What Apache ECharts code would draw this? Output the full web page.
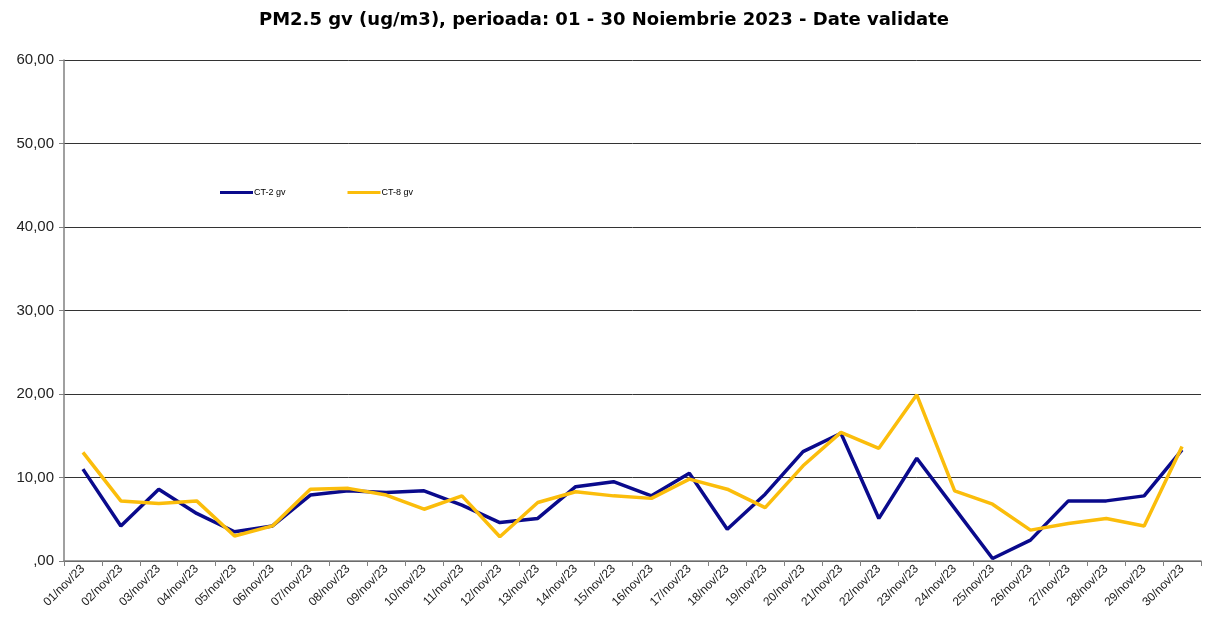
<!DOCTYPE html>
<html>
<head>
<meta charset="utf-8">
<script src="https://cdn.jsdelivr.net/npm/echarts@6/dist/echarts.min.js"></script>
<style>
  html, body { margin: 0; padding: 0; background: #fff; }
  #chart { width: 1208px; height: 622px; }
</style>
</head>
<body>
<div id="chart"></div>
<script>
// zilele din noiembrie
var days = [];
for (var d = 1; d <= 30; d++) {
  days.push((d < 10 ? '0' + d : '' + d) + '/nov/23');
}

var ct2 = [11.0, 4.2, 8.6, 5.7, 3.5, 4.2, 7.9, 8.4, 8.2, 8.4,
           6.7, 4.6, 5.1, 8.9, 9.5, 7.8, 10.5, 3.8, 8.0, 13.1,
           15.3, 5.1, 12.3, 6.3, 0.3, 2.5, 7.2, 7.2, 7.8, 13.3];
var ct8 = [13.0, 7.2, 6.9, 7.2, 3.0, 4.2, 8.6, 8.7, 7.9, 6.2,
           7.8, 2.9, 7.0, 8.3, 7.8, 7.5, 9.8, 8.6, 6.4, 11.4,
           15.4, 13.5, 19.9, 8.4, 6.8, 3.7, 4.5, 5.1, 4.2, 13.7];

var blue = '#0a0a8c';
var yellow = '#fbbd0b';

var chart = echarts.init(document.getElementById('chart'));
chart.setOption({
  animation: false,
  title: {
    text: 'PM2.5 gv (ug/m3), perioada: 01 - 30 Noiembrie 2023 - Date validate',
    left: 'center',
    top: 6,
    textStyle: { fontFamily: 'DejaVu Sans', fontSize: 18, fontWeight: 'bold', color: '#000' }
  },
  legend: {
    left: 215,
    top: 183,
    itemGap: 62,
    itemWidth: 33,
    itemHeight: 3,
    icon: 'rect',
    textStyle: { fontFamily: 'Liberation Sans', fontSize: 9, color: '#000', padding: [0, 0, 0, -4] },
    data: ['CT-2 gv', 'CT-8 gv']
  },
  grid: { left: 64, right: 7, top: 60, bottom: 61 },
  xAxis: {
    type: 'category',
    data: days,
    boundaryGap: true,
    axisLine: { lineStyle: { color: '#808080', width: 1.5 } },
    axisTick: { show: true, alignWithLabel: false, length: 5, lineStyle: { color: '#808080' } },
    axisLabel: {
      interval: 0, rotate: 45, fontFamily: 'Liberation Sans', fontSize: 12, color: '#222', margin: 6
    }
  },
  yAxis: {
    type: 'value',
    min: 0, max: 60, interval: 10,
    axisLine: { show: true, lineStyle: { color: '#808080', width: 1.5 } },
    axisTick: { show: true, length: 5, lineStyle: { color: '#808080' } },
    splitLine: { lineStyle: { color: '#333', width: 1 } },
    axisLabel: {
      fontFamily: 'Liberation Sans', fontSize: 15, color: '#222', margin: 10,
      formatter: function (v) { return v === 0 ? ',00' : v.toFixed(2).replace('.', ','); }
    }
  },
  series: [
    {
      name: 'CT-2 gv', type: 'line', data: ct2, symbol: 'none',
      itemStyle: { color: blue }, lineStyle: { color: blue, width: 3.5 }
    },
    {
      name: 'CT-8 gv', type: 'line', data: ct8, symbol: 'none',
      itemStyle: { color: yellow }, lineStyle: { color: yellow, width: 3.5 }
    }
  ]
});
</script>
</body>
</html>
